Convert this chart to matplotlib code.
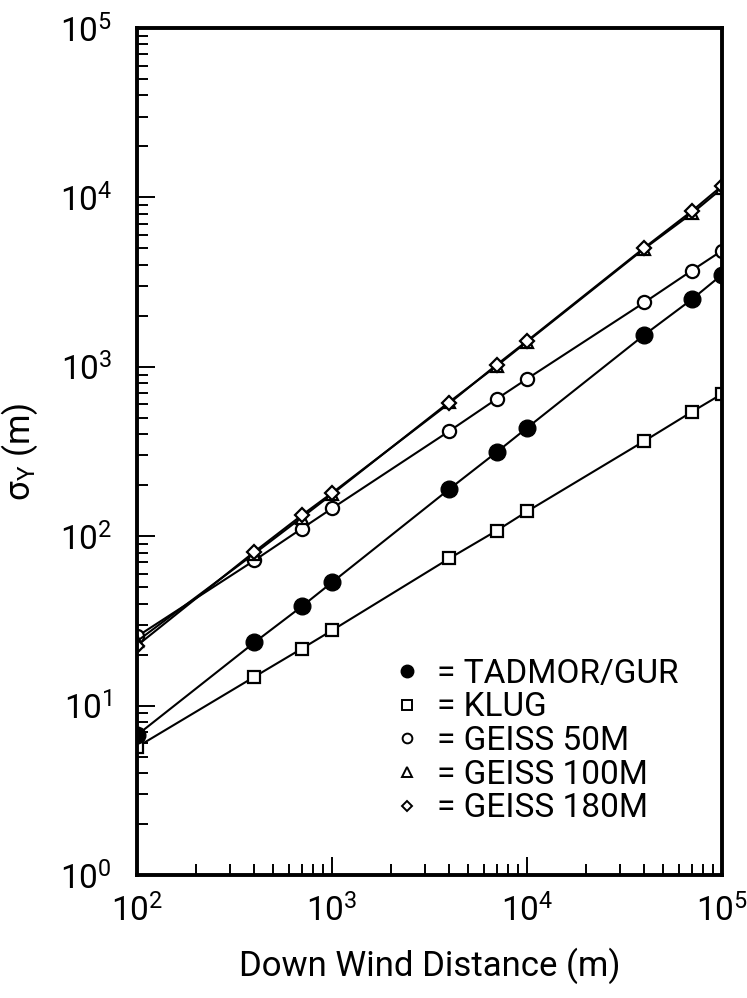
import numpy as np
import matplotlib.pyplot as plt
from matplotlib.lines import Line2D

plt.rcParams['font.family'] = ['Roboto', 'DejaVu Sans']
plt.rcParams['mathtext.default'] = 'regular'

# down wind distance (m)
distance = [100, 400, 700, 1000, 4000, 7000, 10000, 40000, 70000, 100000]

# sigma y (m) for each model
tadmor_gur = [6.7, 23.6, 38.5, 53.4, 190, 314, 436, 1545, 2500, 3500]
klug = [5.7, 14.8, 21.7, 27.8, 74, 108, 140, 365, 542, 692]
geiss_50 = [25.6, 72, 111, 146, 418, 647, 849, 2400, 3700, 4850]
geiss_100 = [24, 79, 129, 177, 621, 1014, 1406, 4990, 8040, 11300]
geiss_180 = [22.6, 81, 133, 180, 610, 1030, 1420, 5050, 8300, 11700]

series_names = ['TADMOR/GUR', 'KLUG', 'GEISS 50M', 'GEISS 100M', 'GEISS 180M']

fig = plt.figure(figsize=(7.47, 9.98), dpi=100)
ax = fig.add_axes([0.1834, 0.1232, 0.7831, 0.8487])

lw = 1.5
ax.plot(distance, klug, '-', color='black', lw=lw, marker='s', ms=9,
        mfc='white', mec='black', mew=1.6)
ax.plot(distance, tadmor_gur, '-', color='black', lw=lw, marker='o', ms=12,
        mfc='black', mec='black')
ax.plot(distance, geiss_50, '-', color='black', lw=lw, marker='o', ms=9.5,
        mfc='white', mec='black', mew=1.6)
ax.plot(distance, geiss_100, '-', color='black', lw=lw, marker='^', ms=9,
        mfc='white', mec='black', mew=1.6)
ax.plot(distance, geiss_180, '-', color='black', lw=lw, marker='D', ms=7,
        mfc='white', mec='black', mew=1.6)

ax.set_xscale('log')
ax.set_yscale('log')
ax.set_xlim(100, 100000)
ax.set_ylim(1, 100000)

for s in ax.spines.values():
    s.set_linewidth(2.8)

ax.tick_params(which='both', direction='in', top=False, right=False,
               width=1.4, labelsize=24)
ax.tick_params(axis='x', pad=14)
ax.tick_params(axis='y', pad=18)
ax.tick_params(which='major', length=13)
ax.tick_params(which='minor', length=8)
ax.set_xticks([1e2, 1e3, 1e4, 1e5])
ax.set_xticklabels(['$10^{2}$', '$10^{3}$', '$10^{4}$', '$10^{5}$'])
ax.set_yticks([1e0, 1e1, 1e2, 1e3, 1e4, 1e5])
ax.set_yticklabels(['$10^{0}$', '$10^{1}$', '$10^{2}$', '$10^{3}$',
                    '$10^{4}$', '$10^{5}$'])

ax.set_xlabel('Down Wind Distance (m)', fontsize=25, labelpad=14)
ax.set_ylabel(r'$\sigma_Y$ (m)', fontsize=25, labelpad=14)

handles = [
    Line2D([], [], ls='none', marker='o', ms=9, mfc='black', mec='black'),
    Line2D([], [], ls='none', marker='s', ms=7, mfc='white', mec='black', mew=1.4),
    Line2D([], [], ls='none', marker='o', ms=7, mfc='white', mec='black', mew=1.4),
    Line2D([], [], ls='none', marker='^', ms=7, mfc='white', mec='black', mew=1.4),
    Line2D([], [], ls='none', marker='D', ms=5.5, mfc='white', mec='black', mew=1.4),
]
ax.legend(handles, ['= ' + n for n in series_names], loc='lower left',
          bbox_to_anchor=(0.41, 0.04), frameon=False, fontsize=24,
          handlelength=0.8, handletextpad=0.5, labelspacing=0.05,
          borderpad=0)

fig.savefig('out.png', dpi=100)
